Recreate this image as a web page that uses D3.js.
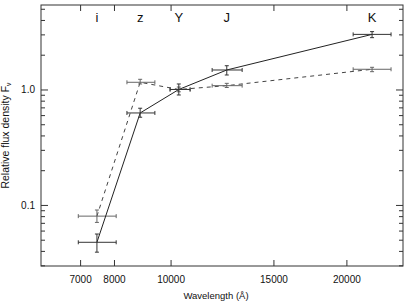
<!DOCTYPE html>
<html lang="en">
<head>
<meta charset="UTF-8">
<title>Relative flux density</title>
<script src="https://cdnjs.cloudflare.com/ajax/libs/d3/7.8.5/d3.min.js"></script>
<style>
  body { margin: 0; background: #fff; }
  svg { display: block; font-family: "Liberation Sans", Arial, sans-serif; }
</style>
</head>
<body>
<svg id="chart" width="409" height="305"></svg>
<script>
// band centres and widths (Angstrom)
const bands = ["i", "z", "Y", "J", "K"];
const waveCenter = [7480, 8870, 10330, 12480, 22130];
const waveLow = [6950, 8420, 9980, 11780, 20540];
const waveHigh = [8070, 9400, 10800, 13260, 23850];

// solid series
const fluxSolid = [0.0475, 0.626, 1.0, 1.475, 3.0];
const fluxSolidLow = [0.039, 0.575, 0.896, 1.335, 2.81];
const fluxSolidHigh = [0.056, 0.688, 1.116, 1.606, 3.17];

// dashed series
const fluxDashed = [0.080, 1.154, 1.0, 1.079, 1.496];
const fluxDashedLow = [0.0706, 1.116, 0.955, 1.04, 1.426];
const fluxDashedHigh = [0.0904, 1.225, 1.05, 1.13, 1.556];

const xTicks = [7000, 8000, 10000, 15000, 20000];
const yMajor = [0.1, 1.0];
const yMinor = [0.03, 0.04, 0.05, 0.06, 0.07, 0.08, 0.09,
                0.2, 0.3, 0.4, 0.5, 0.6, 0.7, 0.8, 0.9, 2, 3, 4, 5];

const pLeft = 41, pRight = 403, pTop = 5, pBottom = 266;
const svg = d3.select("#chart");

const x = d3.scaleLog().domain([6000, 25000]).range([pLeft, pRight]);
const y = d3.scaleLog().domain([0.0296, 5.39]).range([pBottom, pTop]);

const axisColor = "#333";

function styleAxis(g) {
  g.select(".domain").remove();
  g.selectAll(".tick line").attr("stroke", axisColor);
  g.selectAll(".tick text").attr("fill", "#111").attr("font-size", 10);
}

// frame
svg.append("rect")
  .attr("x", pLeft).attr("y", pTop)
  .attr("width", pRight - pLeft).attr("height", pBottom - pTop)
  .attr("fill", "none").attr("stroke", axisColor).attr("stroke-width", 1);

// bottom axis (ticks inward)
svg.append("g")
  .attr("transform", `translate(0,${pBottom})`)
  .call(d3.axisBottom(x).tickValues(xTicks).tickSize(-6).tickPadding(10).tickFormat(d3.format("d")))
  .call(styleAxis);

// top axis ticks only
svg.append("g")
  .attr("transform", `translate(0,${pTop})`)
  .call(d3.axisTop(x).tickValues(xTicks).tickSize(-6).tickFormat(""))
  .call(styleAxis);

// left axis
svg.append("g")
  .attr("transform", `translate(${pLeft},0)`)
  .call(d3.axisLeft(y).tickValues(yMajor).tickSize(-7).tickPadding(6).tickFormat(d3.format(".1f")))
  .call(styleAxis);
svg.append("g")
  .attr("transform", `translate(${pLeft},0)`)
  .call(d3.axisLeft(y).tickValues(yMinor).tickSize(-4).tickFormat(""))
  .call(styleAxis);

// right axis
svg.append("g")
  .attr("transform", `translate(${pRight},0)`)
  .call(d3.axisRight(y).tickValues(yMajor).tickSize(-7).tickFormat(""))
  .call(styleAxis);
svg.append("g")
  .attr("transform", `translate(${pRight},0)`)
  .call(d3.axisRight(y).tickValues(yMinor).tickSize(-4).tickFormat(""))
  .call(styleAxis);

// axis titles
svg.append("text")
  .attr("x", 216).attr("y", 299)
  .attr("text-anchor", "middle").attr("font-size", 9.5).attr("fill", "#111")
  .text("Wavelength (Å)");

const yTitle = svg.append("text")
  .attr("transform", `translate(9,${(pTop + pBottom) / 2}) rotate(-90)`)
  .attr("text-anchor", "middle").attr("font-size", 10.5).attr("fill", "#111");
yTitle.append("tspan").text("Relative flux density F");
yTitle.append("tspan").attr("font-size", 7).attr("dy", 2).text("ν");

// band labels
svg.append("g").selectAll("text")
  .data(bands)
  .join("text")
  .attr("x", (d, i) => x(waveCenter[i]))
  .attr("y", 22)
  .attr("text-anchor", "middle")
  .attr("font-size", 13)
  .attr("fill", "#111")
  .text(d => d);

function series(vals, lo, hi, dash, lineColor, barColor) {
  const pts = bands.map((b, i) => ({ i, v: vals[i], lo: lo[i], hi: hi[i] }));
  const line = d3.line().x(d => x(waveCenter[d.i])).y(d => y(d.v));
  svg.append("path")
    .datum(pts)
    .attr("d", line)
    .attr("fill", "none")
    .attr("stroke", lineColor)
    .attr("stroke-width", 1)
    .attr("stroke-dasharray", dash);

  const g = svg.append("g").attr("stroke", barColor).attr("stroke-width", 1).attr("fill", "none");
  const cap = 2;
  pts.forEach(d => {
    const cx = x(waveCenter[d.i]), cy = y(d.v);
    const x0 = x(waveLow[d.i]), x1 = x(waveHigh[d.i]);
    const y0 = y(d.lo), y1 = y(d.hi);
    // horizontal bar with end caps
    g.append("line").attr("x1", x0).attr("x2", x1).attr("y1", cy).attr("y2", cy);
    g.append("line").attr("x1", x0).attr("x2", x0).attr("y1", cy - cap).attr("y2", cy + cap);
    g.append("line").attr("x1", x1).attr("x2", x1).attr("y1", cy - cap).attr("y2", cy + cap);
    // vertical bar with caps
    g.append("line").attr("x1", cx).attr("x2", cx).attr("y1", y0).attr("y2", y1);
    g.append("line").attr("x1", cx - cap).attr("x2", cx + cap).attr("y1", y0).attr("y2", y0);
    g.append("line").attr("x1", cx - cap).attr("x2", cx + cap).attr("y1", y1).attr("y2", y1);
  });
}

series(fluxDashed, fluxDashedLow, fluxDashedHigh, "4,4", "#444", "#666");
series(fluxSolid, fluxSolidLow, fluxSolidHigh, null, "#222", "#333");
</script>
</body>
</html>
